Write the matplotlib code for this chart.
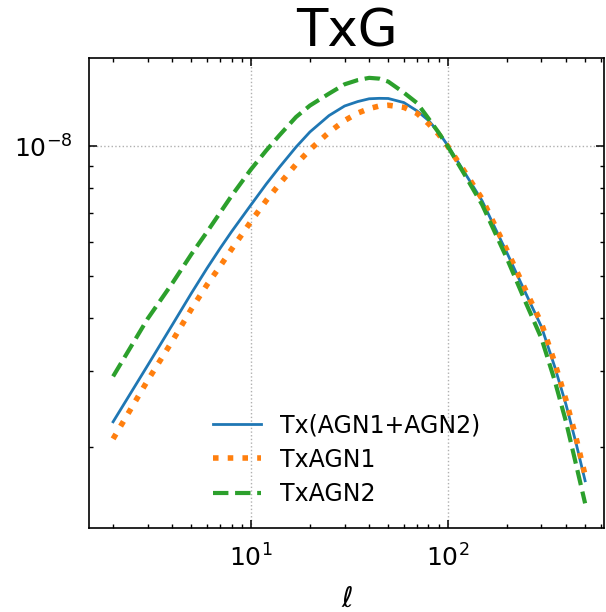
import numpy as np
import matplotlib
matplotlib.use("Agg")
import matplotlib.pyplot as plt
from matplotlib.ticker import LogLocator, NullFormatter

# multipoles
ell = [2, 3, 4, 5, 6, 7, 8, 10, 12, 14, 17, 20, 25, 30, 35, 40, 45, 50, 60, 70, 80, 90,
       100, 120, 150, 175, 200, 250, 300, 350, 400, 450, 500]

# cross spectra (units of 1e-9)
tx_both = [2.29, 3.10, 3.85, 4.56, 5.21, 5.80, 6.34, 7.30, 8.18, 8.95, 9.97, 10.81, 11.80,
           12.42, 12.72, 12.91, 12.94, 12.93, 12.65, 12.10, 11.50, 10.80,
           10.07, 8.81, 7.47, 6.44, 5.67, 4.55, 3.81, 3.08, 2.51, 2.04, 1.67]
tx_agn1 = [2.09, 2.86, 3.53, 4.19, 4.77, 5.27, 5.77, 6.68, 7.49, 8.18, 9.09, 9.83, 10.79,
           11.49, 11.96, 12.25, 12.42, 12.47, 12.33, 11.94, 11.30, 10.68,
           10.03, 8.85, 7.55, 6.52, 5.75, 4.62, 3.88, 3.15, 2.57, 2.10, 1.72]
tx_agn2 = [2.92, 3.98, 4.81, 5.62, 6.33, 7.02, 7.68, 8.83, 9.79, 10.62, 11.71, 12.45, 13.27,
           13.95, 14.27, 14.44, 14.38, 14.15, 13.34, 12.62, 11.62, 10.78,
           10.03, 8.72, 7.32, 6.28, 5.50, 4.33, 3.58, 2.86, 2.29, 1.82, 1.48]

labels = ["Tx(AGN1+AGN2)", "TxAGN1", "TxAGN2"]

fig = plt.figure(figsize=(6.06, 6.12), dpi=100)
ax = fig.add_axes([0.147, 0.138, 0.85, 0.768])

ell = np.array(ell)
ax.loglog(ell, np.array(tx_both) * 1e-9, color="#1f77b4", lw=2, label=labels[0])
ax.loglog(ell, np.array(tx_agn1) * 1e-9, color="#ff7f0e", lw=4, ls=":", label=labels[1])
ax.loglog(ell, np.array(tx_agn2) * 1e-9, color="#2ca02c", lw=3, ls="--", label=labels[2])

ax.set_xlim(1.51, 625)
ax.set_ylim(1.3e-9, 1.61e-8)

ax.yaxis.set_minor_locator(LogLocator(base=10, subs=np.arange(2, 10)))
ax.yaxis.set_minor_formatter(NullFormatter())
ax.xaxis.set_minor_formatter(NullFormatter())

ax.tick_params(which="both", direction="in", top=True, right=True, labelsize=18, pad=12)
ax.tick_params(which="major", length=5.5, width=1.1)
ax.tick_params(which="minor", length=3, width=1.0)
for s in ax.spines.values():
    s.set_linewidth(1.2)

ax.grid(True, which="major", ls=":", color="#b0b0b0", lw=1)

ax.set_title("TxG", fontsize=37, pad=6)
ax.set_xlabel(r"$\ell$", fontsize=20, labelpad=10)

ax.legend(loc="lower center", frameon=False, fontsize=17, labelspacing=0.45)

fig.savefig("out.png", dpi=100)
